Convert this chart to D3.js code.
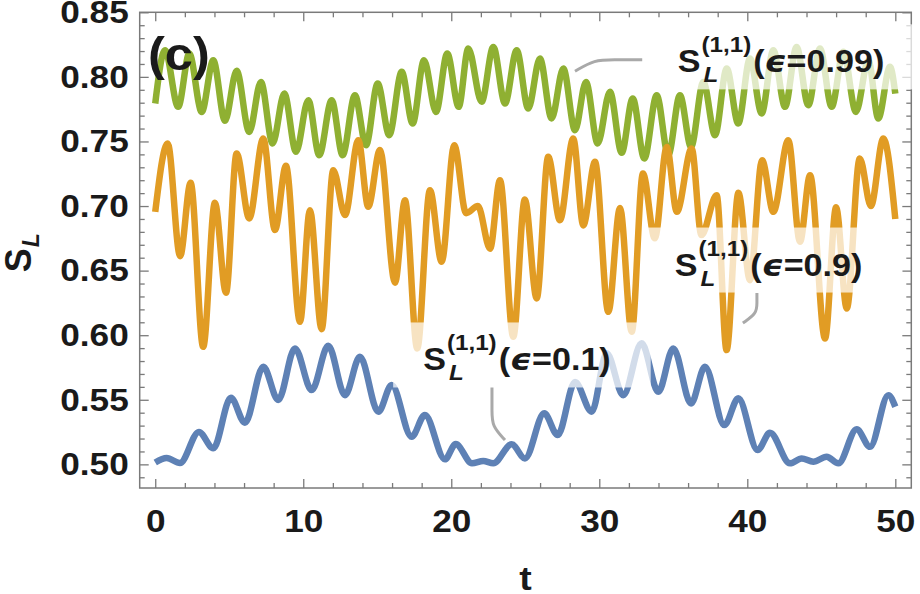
<!DOCTYPE html>
<html>
<head>
<meta charset="utf-8">
<script src="https://cdn.jsdelivr.net/npm/d3@7/dist/d3.min.js"></script>
<style>
  body { margin: 0; background: #fff; }
  svg text { font-family: "Liberation Sans", Arial, sans-serif; font-weight: bold; fill: #1a1a1a; }
</style>
</head>
<body>
<svg id="chart" width="920" height="594"></svg>
<script>
// values: [t, S_L] at turning points
const green = [[0,0.7794],[0.66,0.8207],[1.55,0.7768],[2.3,0.8181],[3.14,0.7729],[3.92,0.8129],[4.71,0.766],[5.5,0.8047],[6.35,0.7574],[7.14,0.7961],[7.93,0.7485],[8.72,0.7871],[9.51,0.742],[10.34,0.782],[11.08,0.7394],[11.92,0.782],[12.66,0.7394],[13.49,0.7858],[14.24,0.7471],[15.03,0.7949],[15.81,0.7549],[16.65,0.8039],[17.39,0.7639],[18.16,0.8129],[18.97,0.7729],[19.73,0.8181],[20.5,0.7768],[21.15,0.822],[22.05,0.7807],[22.84,0.8232],[23.63,0.7794],[24.42,0.8207],[25.2,0.7755],[25.99,0.8142],[26.78,0.7678],[27.57,0.8065],[28.36,0.7587],[29.1,0.7961],[29.89,0.7485],[30.72,0.7884],[31.51,0.7412],[32.26,0.7833],[33.04,0.7368],[33.88,0.7858],[34.66,0.7394],[35.45,0.7858],[36.2,0.7458],[37.03,0.7961],[37.82,0.7549],[38.61,0.8065],[39.39,0.7639],[40.18,0.8142],[40.97,0.7717],[41.76,0.8207],[42.55,0.7768],[43.33,0.8232],[44.12,0.7781],[44.91,0.822],[45.7,0.7768],[46.49,0.8194],[47.34,0.7729],[48.18,0.8129],[48.85,0.7678],[49.64,0.8078],[50,0.787]];

const orange = [[0,0.6955],[0.84,0.7485],[1.68,0.6612],[2.39,0.718],[3.24,0.591],[4.03,0.7025],[4.78,0.6328],[5.5,0.7407],[6.35,0.6904],[7.3,0.7523],[8.09,0.6814],[8.83,0.7311],[9.78,0.6104],[10.45,0.6968],[11.24,0.6047],[12.03,0.7278],[12.82,0.693],[13.72,0.751],[14.39,0.6994],[15.18,0.7433],[16.2,0.6406],[16.87,0.7045],[17.7,0.5898],[18.56,0.7123],[19.35,0.6568],[20.2,0.7471],[21.0,0.6945],[21.8,0.70],[22.62,0.667],[23.29,0.72],[24.19,0.5988],[24.97,0.705],[25.77,0.6285],[26.55,0.7381],[27.34,0.689],[28.24,0.7523],[28.92,0.685],[29.71,0.7342],[30.61,0.6181],[31.4,0.6985],[32.19,0.6026],[32.95,0.7252],[33.75,0.675],[34.56,0.7458],[35.24,0.6955],[36.24,0.7446],[36.9,0.6775],[37.93,0.7084],[38.6,0.5885],[39.4,0.7102],[40.18,0.6426],[41.0,0.7355],[41.76,0.6955],[42.77,0.751],[43.56,0.6723],[44.24,0.7239],[45.25,0.5975],[46.0,0.699],[46.72,0.6207],[47.6,0.7368],[48.35,0.70],[49.19,0.7523],[50,0.69]];

const blue = [[0,0.5015],[0.77,0.505],[1.67,0.501],[2.95,0.525],[3.92,0.5124],[5.11,0.5516],[6.06,0.5322],[7.3,0.5756],[8.31,0.5498],[9.44,0.5898],[10.57,0.5575],[11.69,0.5918],[12.82,0.5536],[13.83,0.5833],[15.07,0.5407],[15.97,0.5614],[17.32,0.5214],[18.22,0.5382],[19.57,0.5039],[20.3,0.5157],[21.4,0.5008],[22.16,0.5026],[22.84,0.5008],[24.08,0.5155],[24.98,0.5046],[26.28,0.5395],[27.19,0.5227],[28.36,0.5637],[29.49,0.5407],[30.5,0.586],[31.62,0.5536],[32.86,0.5937],[33.99,0.5562],[35.0,0.5898],[36.2,0.5472],[37.14,0.5756],[38.45,0.5304],[39.39,0.5511],[40.7,0.5111],[41.53,0.5245],[42.88,0.5008],[43.67,0.5046],[44.46,0.502],[45.36,0.5059],[46.15,0.5008],[47.39,0.5271],[48.29,0.5136],[49.53,0.5536],[50,0.5446]];

const xMajor = [0, 10, 20, 30, 40, 50];
const xMinor = [2, 4, 6, 8, 12, 14, 16, 18, 22, 24, 26, 28, 32, 34, 36, 38, 42, 44, 46, 48];
const yMajor = [0.50, 0.55, 0.60, 0.65, 0.70, 0.75, 0.80, 0.85];
const yMinor = d3.range(49, 85).filter(d => d % 5 !== 0).map(d => d / 100);

const seriesNames = ["0.99", "0.9", "0.1"];
const seriesColors = ["#8fb032", "#e19c24", "#5e81b5"];

// label anchors (left of "S", baseline) and callout paths, in data units
const labelAnchors = [[35.3, 0.8035], [35.1, 0.6462], [18.1, 0.5727]];
const callouts = [
  [[28.36, 0.8044], [29.7, 0.8133], [30.9, 0.8133], [32.9, 0.8133]],
  [[39.7, 0.6094], [40.65, 0.6170], [40.65, 0.6250], [40.65, 0.6327]],
  [[23.63, 0.5188], [22.75, 0.5300], [22.75, 0.5405], [22.75, 0.5598]]
];

const svg = d3.select("#chart");
const m = { left: 139.7, right: 911.3, top: 12.3, bottom: 488 };

const x = d3.scaleLinear().domain([-1.05, 51.08]).range([m.left, m.right]);
const y = d3.scaleLinear().domain([0.4817, 0.85]).range([m.bottom, m.top]);

// widen glyphs a little (the figure's lettering is broad); returns new width
const stretchOne = node => {
  const len = node.getComputedTextLength() * 1.1;
  d3.select(node).attr("textLength", len).attr("lengthAdjust", "spacingAndGlyphs");
  return len;
};
const stretch = sel => sel.each(function() { stretchOne(this); });

const line = d3.line().x(d => x(d[0])).y(d => y(d[1])).curve(d3.curveMonotoneX);

const plot = svg.append("g");
[green, orange, blue].forEach((s, i) => {
  plot.append("path")
    .attr("d", line(s))
    .attr("fill", "none")
    .attr("stroke", seriesColors[i])
    .attr("stroke-width", 6.5)
    .attr("stroke-linejoin", "round");
});

// frame and ticks
const frameColor = "#7a7a7a";
const styleAxis = g => {
  g.select(".domain").remove();
  g.selectAll(".tick line").attr("stroke", frameColor).attr("stroke-width", 1.3);
};
svg.append("g").attr("transform", `translate(0,${m.bottom})`)
  .call(d3.axisBottom(x).tickValues(xMajor).tickSize(-9).tickPadding(21).tickFormat(d3.format("d")))
  .call(styleAxis)
  .call(g => g.selectAll("text").attr("font-size", 32).attr("fill", "#1a1a1a").call(stretch));
svg.append("g").attr("transform", `translate(0,${m.bottom})`)
  .call(d3.axisBottom(x).tickValues(xMinor).tickSize(-5).tickFormat(""))
  .call(styleAxis);
svg.append("g").attr("transform", `translate(0,${m.top})`)
  .call(d3.axisTop(x).tickValues(xMajor).tickSize(-9).tickFormat(""))
  .call(styleAxis);
svg.append("g").attr("transform", `translate(0,${m.top})`)
  .call(d3.axisTop(x).tickValues(xMinor).tickSize(-5).tickFormat(""))
  .call(styleAxis);
svg.append("g").attr("transform", `translate(${m.left},0)`)
  .call(d3.axisLeft(y).tickValues(yMajor).tickSize(-9).tickPadding(11).tickFormat(d3.format(".2f")))
  .call(styleAxis)
  .call(g => g.selectAll("text").attr("font-size", 32).attr("fill", "#1a1a1a").call(stretch));
svg.append("g").attr("transform", `translate(${m.left},0)`)
  .call(d3.axisLeft(y).tickValues(yMinor).tickSize(-5).tickFormat(""))
  .call(styleAxis);
svg.append("g").attr("transform", `translate(${m.right},0)`)
  .call(d3.axisRight(y).tickValues(yMajor).tickSize(-9).tickFormat(""))
  .call(styleAxis);
svg.append("g").attr("transform", `translate(${m.right},0)`)
  .call(d3.axisRight(y).tickValues(yMinor).tickSize(-5).tickFormat(""))
  .call(styleAxis);
svg.append("rect")
  .attr("x", m.left).attr("y", m.top).attr("width", m.right - m.left).attr("height", m.bottom - m.top)
  .attr("fill", "none").attr("stroke", frameColor).attr("stroke-width", 1.5);

// callout lines
const calloutLine = d3.line().x(d => x(d[0])).y(d => y(d[1])).curve(d3.curveBasis);
callouts.forEach(c => {
  svg.append("path").attr("d", calloutLine(c))
    .attr("fill", "none").attr("stroke", "#a9a9a9").attr("stroke-width", 3);
});

// series labels with a translucent backdrop
labelAnchors.forEach((a, i) => {
  const g = svg.append("g").attr("transform", `translate(${x(a[0])},${y(a[1])})`);
  const bg = g.append("rect").attr("fill", "#fff").attr("fill-opacity", 0.72);
  const sw = stretchOne(g.append("text").attr("font-size", 31).text("S").node());
  const supw = stretchOne(g.append("text").attr("font-size", 22).attr("x", sw + 1).attr("y", -20).text("(1,1)").node());
  stretchOne(g.append("text").attr("font-size", 22).attr("font-style", "italic").attr("x", sw + 3).attr("y", 10).text("L").node());
  const rest = g.append("text").attr("font-size", 31).attr("x", sw + supw + 3);
  rest.append("tspan").text("(");
  rest.append("tspan").attr("font-style", "italic").attr("font-family", "DejaVu Sans").text("\u03F5");
  rest.append("tspan").text("=" + seriesNames[i] + ")");
  const restw = stretchOne(rest.node());
  const w = sw + supw + 3 + restw;
  bg.attr("x", -30).attr("y", -48).attr("width", w + 70).attr("height", 65);
});

// panel tag and axis titles
svg.append("text").attr("x", 148).attr("y", 70).attr("font-size", 46).text("(c)").call(stretch);
svg.append("text").attr("x", (m.left + m.right) / 2).attr("y", 590).attr("text-anchor", "middle")
  .attr("font-size", 34).text("t").call(stretch);
const yl = svg.append("g").attr("transform", `translate(31,${(m.top + m.bottom) / 2 + 22}) rotate(-90)`);
yl.append("text").attr("font-size", 36).text("S");
yl.append("text").attr("x", 25).attr("y", 8).attr("font-size", 23).attr("font-style", "italic").text("L");
</script>
</body>
</html>
